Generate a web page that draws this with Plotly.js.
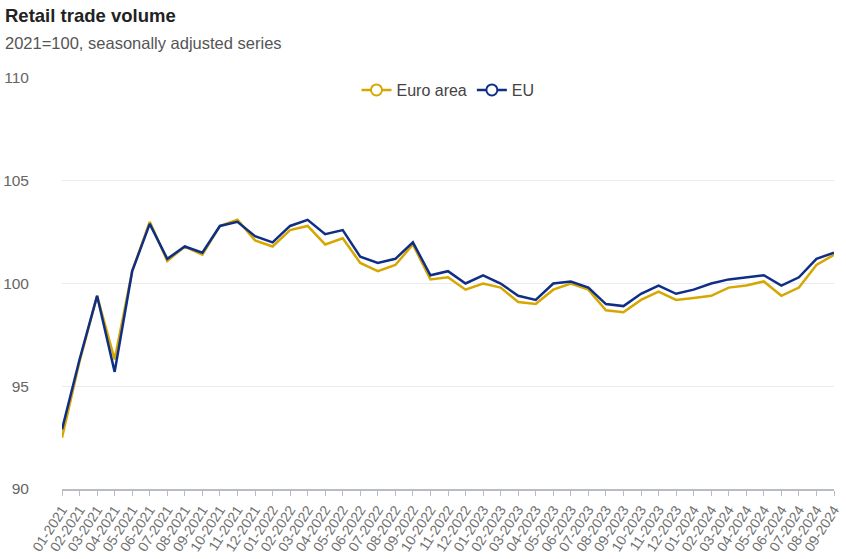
<!DOCTYPE html>
<html>
<head>
<meta charset="utf-8">
<script src="https://cdn.plot.ly/plotly-3.0.1.min.js"></script>
<style>
  html, body { margin: 0; padding: 0; background: #fff; }
  #chart { width: 846px; height: 559px; }
</style>
</head>
<body>
<div id="chart"></div>
<script>
const months = [
  "01-2021","02-2021","03-2021","04-2021","05-2021","06-2021","07-2021","08-2021","09-2021","10-2021","11-2021","12-2021",
  "01-2022","02-2022","03-2022","04-2022","05-2022","06-2022","07-2022","08-2022","09-2022","10-2022","11-2022","12-2022",
  "01-2023","02-2023","03-2023","04-2023","05-2023","06-2023","07-2023","08-2023","09-2023","10-2023","11-2023","12-2023",
  "01-2024","02-2024","03-2024","04-2024","05-2024","06-2024","07-2024","08-2024","09-2024"
];
const euroArea = [
  92.5, 96.2, 99.4, 96.3, 100.6, 103.0, 101.1, 101.8, 101.4, 102.8, 103.1, 102.1,
  101.8, 102.6, 102.8, 101.9, 102.2, 101.0, 100.6, 100.9, 101.9, 100.2, 100.3, 99.7,
  100.0, 99.8, 99.1, 99.0, 99.7, 100.0, 99.7, 98.7, 98.6, 99.2, 99.6, 99.2,
  99.3, 99.4, 99.8, 99.9, 100.1, 99.4, 99.8, 100.9, 101.4
];
const eu = [
  92.9, 96.3, 99.4, 95.7, 100.6, 102.9, 101.2, 101.8, 101.5, 102.8, 103.0, 102.3,
  102.0, 102.8, 103.1, 102.4, 102.6, 101.3, 101.0, 101.2, 102.0, 100.4, 100.6, 100.0,
  100.4, 100.0, 99.4, 99.2, 100.0, 100.1, 99.8, 99.0, 98.9, 99.5, 99.9, 99.5,
  99.7, 100.0, 100.2, 100.3, 100.4, 99.9, 100.3, 101.2, 101.5
];
const seriesNames = ["Euro area", "EU"];
const seriesColors = ["#d6a700", "#0f2f86"];
const yTicks = [90, 95, 100, 105, 110];

const FONT = "Liberation Sans, Arial, sans-serif";

const seriesData = [euroArea, eu];
const traces = [];
// data lines
seriesData.forEach((vals, k) => {
  traces.push({
    x: months, y: vals, name: seriesNames[k], type: "scatter", mode: "lines",
    legendgroup: seriesNames[k], showlegend: false,
    line: { color: seriesColors[k], width: 2.5 }
  });
});
// legend entries (line with open circle), no data drawn
seriesData.forEach((vals, k) => {
  traces.push({
    x: [null], y: [null], name: seriesNames[k], type: "scatter", mode: "lines+markers",
    legendgroup: seriesNames[k], showlegend: true,
    line: { color: seriesColors[k], width: 2.5 },
    marker: { size: 11, color: "#ffffff", line: { color: seriesColors[k], width: 2 } }
  });
});

const layout = {
  width: 846, height: 559,
  margin: { l: 62, r: 12, t: 78, b: 70 },
  paper_bgcolor: "#ffffff", plot_bgcolor: "#ffffff",
  font: { family: FONT, color: "#555555" },
  showlegend: true,
  legend: {
    orientation: "h", x: 0.5, xanchor: "center", y: 1.012, yanchor: "top",
    font: { size: 16, color: "#444444", family: FONT },
    bgcolor: "rgba(0,0,0,0)"
  },
  xaxis: {
    type: "category", range: [0, months.length - 1],
    tickvals: months, ticktext: months,
    tickangle: -57, tickfont: { size: 14, color: "#707070" },
    showgrid: false, zeroline: false,
    showline: true, linecolor: "#b8bcc4", linewidth: 2,
    ticks: "outside", ticklen: 5, tickcolor: "#b8bcc4", tickwidth: 1
  },
  yaxis: {
    range: [90, 110], tickvals: yTicks, ticktext: yTicks.map(String),
    showgrid: true, gridcolor: "#e8ebf2", gridwidth: 1,
    zeroline: false, showline: false,
    tickfont: { size: 15.5, color: "#666666" },
    ticklabelstandoff: 32
  },
  annotations: [
    { text: "<b>Retail trade volume</b>", xref: "paper", yref: "paper", x: 0, y: 0,
      xanchor: "left", yanchor: "middle", showarrow: false,
      font: { size: 18.5, color: "#222222", family: FONT } },
    { text: "2021=100, seasonally adjusted series", xref: "paper", yref: "paper", x: 0, y: 0,
      xanchor: "left", yanchor: "middle", showarrow: false,
      font: { size: 16.5, color: "#555555", family: FONT } }
  ]
};

const plotH = 559 - 78 - 70;
const plotW = 846 - 62 - 12;
function px2paperX(px) { return (px - 62) / plotW; }
function px2paperY(py) { return (559 - 70 - py) / plotH; }
layout.annotations[0].x = px2paperX(3); layout.annotations[0].y = px2paperY(15);
layout.annotations[1].x = px2paperX(3); layout.annotations[1].y = px2paperY(43);

Plotly.newPlot("chart", traces, layout, { displayModeBar: false, staticPlot: true });
</script>
</body>
</html>
